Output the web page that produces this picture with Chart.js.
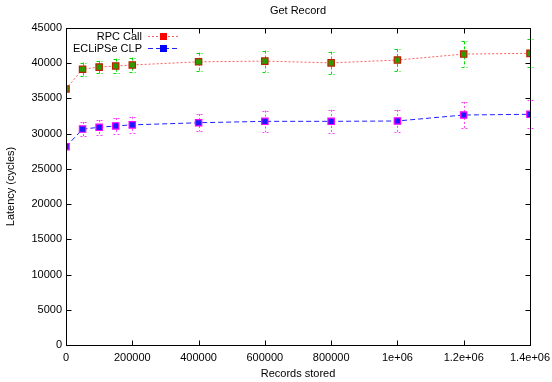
<!DOCTYPE html>
<html>
<head>
<meta charset="utf-8">
<script src="https://cdn.jsdelivr.net/npm/chart.js@4/dist/chart.umd.min.js"></script>
<style>
  html, body { margin: 0; padding: 0; background: #fff; }
  #wrap { width: 552px; height: 382px; }
</style>
</head>
<body>
<div id="wrap"><canvas id="c" width="552" height="382"></canvas></div>
<script>
// Records stored (x) and measured latency in cycles
const recordsStored = [0, 50000, 100000, 150000, 200000, 400000, 600000, 800000, 1000000, 1200000, 1400000];
const rpcLatency    = [36350, 39150, 39450, 39600, 39750, 40200, 40300, 40050, 40450, 41300, 41400];
const rpcError      = [0, 950, 900, 1050, 1050, 1300, 1500, 1600, 1580, 1800, 2000];
const clpLatency    = [28150, 30650, 30900, 31100, 31250, 31550, 31750, 31750, 31800, 32650, 32750];
const clpError      = [0, 1000, 1050, 1130, 1150, 1230, 1530, 1630, 1580, 1860, 1980];
const xTickLabels   = ['0', '200000', '400000', '600000', '800000', '1e+06', '1.2e+06', '1.4e+06'];
const seriesNames   = ['RPC Call', 'ECLiPSe CLP'];

const FONT = '"Liberation Sans", Arial, Helvetica, sans-serif';

function points(ys) {
  return recordsStored.map((x, i) => ({ x: x, y: ys[i] }));
}

// Vertical error bars with caps, plus inward mirrored ticks, frame and key
const decorations = {
  id: 'decorations',
  beforeDatasetsDraw(chart) {
    const ctx = chart.ctx;
    const xs = chart.scales.x, ys = chart.scales.y;
    chart.data.datasets.forEach((ds) => {
      ctx.save();
      ctx.strokeStyle = ds.errColor;
      ctx.lineWidth = 1;
      ctx.setLineDash(ds.errDash);
      ds.data.forEach((p, i) => {
        const e = ds.errors[i];
        if (!e) return;
        const px = Math.round(xs.getPixelForValue(p.x)) + 0.5;
        const top = ys.getPixelForValue(p.y + e);
        const bot = ys.getPixelForValue(p.y - e);
        ctx.beginPath();
        ctx.moveTo(px, top); ctx.lineTo(px, bot);
        ctx.moveTo(px - 3, Math.round(top) + 0.5); ctx.lineTo(px + 3, Math.round(top) + 0.5);
        ctx.moveTo(px - 3, Math.round(bot) + 0.5); ctx.lineTo(px + 3, Math.round(bot) + 0.5);
        ctx.stroke();
      });
      ctx.restore();
    });
  },
  afterDraw(chart) {
    const ctx = chart.ctx;
    const a = chart.chartArea;
    const xs = chart.scales.x, ys = chart.scales.y;
    const L = Math.round(a.left) + 0.5, R = Math.round(a.right) + 0.5;
    const T = Math.round(a.top) + 0.5, B = Math.round(a.bottom) + 0.5;
    ctx.save();
    ctx.strokeStyle = '#000';
    ctx.lineWidth = 1;
    ctx.setLineDash([]);
    ctx.beginPath();
    ys.ticks.forEach((t) => {
      const py = Math.round(ys.getPixelForValue(t.value)) + 0.5;
      ctx.moveTo(L, py); ctx.lineTo(L + 5, py);
      ctx.moveTo(R, py); ctx.lineTo(R - 5, py);
    });
    xs.ticks.forEach((t) => {
      const px = Math.round(xs.getPixelForValue(t.value)) + 0.5;
      ctx.moveTo(px, B); ctx.lineTo(px, B - 5);
      ctx.moveTo(px, T); ctx.lineTo(px, T + 5);
    });
    ctx.stroke();
    ctx.strokeRect(L, T, R - L, B - T);

    // key
    ctx.font = '11px ' + FONT;
    ctx.textAlign = 'right';
    ctx.textBaseline = 'middle';
    chart.data.datasets.forEach((ds, i) => {
      const y = 36 + i * 12 + 0.5;
      ctx.fillStyle = '#000';
      ctx.fillText(ds.label, 142, y);
      ctx.strokeStyle = ds.borderColor;
      ctx.setLineDash(ds.borderDash);
      ctx.beginPath();
      ctx.moveTo(148, y); ctx.lineTo(179, y);
      ctx.stroke();
      ctx.setLineDash([]);
      ctx.fillStyle = ds.keyColor;
      ctx.fillRect(160, y - 3.5, 7, 7);
    });
    ctx.restore();
  }
};

new Chart(document.getElementById('c'), {
  type: 'line',
  data: {
    datasets: [
      {
        label: seriesNames[0],
        data: points(rpcLatency),
        errors: rpcError,
        errColor: '#00e000',
        errDash: [3, 2],
        keyColor: '#ff0000',
        borderColor: 'rgba(255,40,40,0.75)',
        borderDash: [2, 2],
        borderWidth: 1,
        pointStyle: 'rect',
        pointRadius: 4.5,
        pointHoverRadius: 4.5,
        pointBackgroundColor: '#2e9a00',
        pointBorderColor: '#c02000',
        pointBorderWidth: 1.2,
        tension: 0
      },
      {
        label: seriesNames[1],
        data: points(clpLatency),
        errors: clpError,
        errColor: '#ff40ff',
        errDash: [2, 2],
        keyColor: '#0000ff',
        borderColor: '#2020ff',
        borderDash: [5, 3],
        borderWidth: 1,
        pointStyle: 'rect',
        pointRadius: 4.5,
        pointHoverRadius: 4.5,
        pointBackgroundColor: '#1a1aff',
        pointBorderColor: '#ff00ff',
        pointBorderWidth: 1.2,
        tension: 0
      }
    ]
  },
  options: {
    responsive: false,
    animation: false,
    events: [],
    layout: { padding: { left: 0, right: 22, top: 0, bottom: 0 } },
    plugins: {
      legend: { display: false },
      tooltip: { enabled: false },
      title: {
        display: true,
        text: 'Get Record',
        fullSize: false,
        color: '#000',
        font: { family: FONT, size: 11, weight: 'normal', lineHeight: 1 },
        padding: { top: 5, bottom: 12 }
      }
    },
    scales: {
      x: {
        type: 'linear',
        min: 0,
        max: 1400000,
        grid: { display: false, drawTicks: false },
        border: { display: false },
        afterFit(scale) {
          scale.height = 37;
          scale.paddingLeft = 0;
          scale.paddingRight = 0;
        },
        ticks: {
          stepSize: 200000,
          autoSkip: false,
          maxRotation: 0,
          padding: 6,
          color: '#000',
          font: { family: FONT, size: 11 },
          callback: (v) => xTickLabels[Math.round(v / 200000)]
        },
        title: {
          display: true,
          text: 'Records stored',
          color: '#000',
          font: { family: FONT, size: 11 },
          padding: { top: 0, bottom: 1 }
        }
      },
      y: {
        min: 0,
        max: 45000,
        grid: { display: false, drawTicks: false },
        border: { display: false },
        afterFit(scale) {
          scale.width = 66;
          scale.paddingTop = 0;
          scale.paddingBottom = 0;
        },
        ticks: {
          stepSize: 5000,
          padding: 4,
          color: '#000',
          font: { family: FONT, size: 11 },
          callback: (v) => String(v)
        },
        title: {
          display: true,
          text: 'Latency (cycles)',
          color: '#000',
          font: { family: FONT, size: 11 },
          padding: { top: 4, bottom: 0 }
        }
      }
    }
  },
  plugins: [decorations]
});
</script>
</body>
</html>
